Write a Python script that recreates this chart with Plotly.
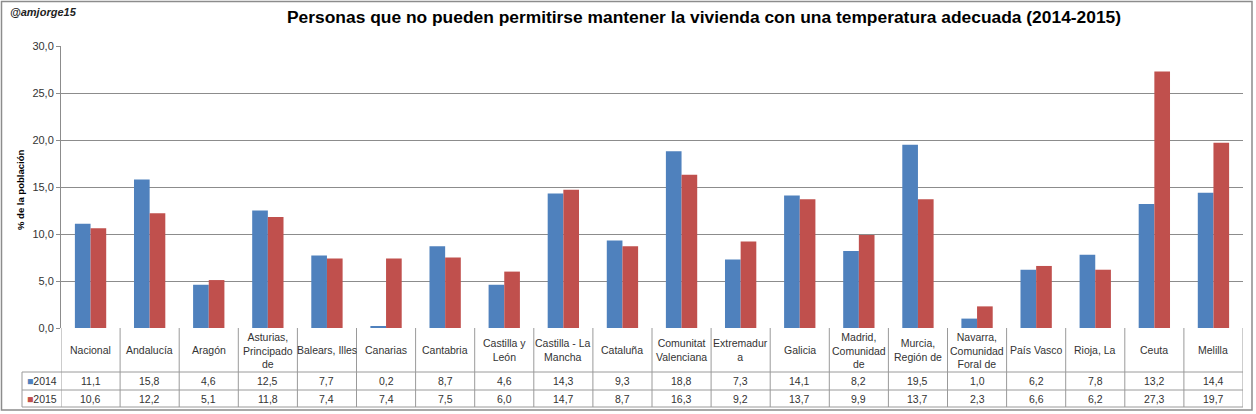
import plotly.graph_objects as go

categories = ["Nacional", "Andalucía", "Aragón", "Asturias, Principado de", "Balears, Illes",
              "Canarias", "Cantabria", "Castilla y León", "Castilla - La Mancha", "Cataluña",
              "Comunitat Valenciana", "Extremadura", "Galicia", "Madrid, Comunidad de",
              "Murcia, Región de", "Navarra, Comunidad Foral de", "País Vasco", "Rioja, La",
              "Ceuta", "Melilla"]
table_labels = ["Nacional", "Andalucía", "Aragón", "Asturias,<br>Principado<br>de", "Balears, Illes",
                "Canarias", "Cantabria", "Castilla y<br>León", "Castilla - La<br>Mancha", "Cataluña",
                "Comunitat<br>Valenciana", "Extremadur<br>a", "Galicia", "Madrid,<br>Comunidad<br>de",
                "Murcia,<br>Región de", "Navarra,<br>Comunidad<br>Foral de", "País Vasco", "Rioja, La",
                "Ceuta", "Melilla"]
v2014 = [11.1, 15.8, 4.6, 12.5, 7.7, 0.2, 8.7, 4.6, 14.3, 9.3, 18.8, 7.3, 14.1, 8.2, 19.5, 1.0, 6.2, 7.8, 13.2, 14.4]
v2015 = [10.6, 12.2, 5.1, 11.8, 7.4, 7.4, 7.5, 6.0, 14.7, 8.7, 16.3, 9.2, 13.7, 9.9, 13.7, 2.3, 6.6, 6.2, 27.3, 19.7]
series_names = ["2014", "2015"]
colors = ["#4F81BD", "#C0504D"]
title = "Personas que no pueden permitirse mantener la vivienda con una temperatura adecuada (2014-2015)"

W, H = 1256, 414
L, R, T, B = 61, 1243, 46, 328
n = len(categories)

def px(x):
    return (x - L) / (R - L)

def py(y):
    return (B - y) / (B - T)

FONT = "Liberation Sans"
TXT = "#333333"
LINE = "#9a9a9a"

fig = go.Figure()
for name, vals, col in zip(series_names, [v2014, v2015], colors):
    fig.add_trace(go.Bar(x=list(range(n)), y=vals, name=name, marker=dict(color=col, line=dict(width=0)),
                         hoverinfo="y"))

shapes = []
annotations = []

# table horizontal lines
for yy, x0 in [(372, 22), (390, 22), (407, 22)]:
    shapes.append(dict(type="line", xref="paper", yref="paper", x0=px(x0), x1=1, y0=py(yy), y1=py(yy),
                       line=dict(color=LINE, width=1)))
# vertical separators
for i in range(n + 1):
    shapes.append(dict(type="line", xref="x", yref="paper", x0=i - 0.5, x1=i - 0.5, y0=0, y1=py(407),
                       line=dict(color=LINE, width=1)))
shapes.append(dict(type="line", xref="paper", yref="paper", x0=px(22), x1=px(22), y0=py(372), y1=py(407),
                   line=dict(color=LINE, width=1)))
# outer chart border
shapes.append(dict(type="rect", xref="paper", yref="paper", x0=px(1.5), x1=px(1252), y0=py(1.5), y1=py(410),
                   line=dict(color="#8c8c8c", width=1.5)))

for i in range(n):
    annotations.append(dict(x=i, y=py(350), xref="x", yref="paper", text=table_labels[i], showarrow=False,
                            font=dict(family=FONT, size=10.5, color=TXT), align="center", yanchor="middle"))
    annotations.append(dict(x=i, y=py(381), xref="x", yref="paper", text=f"{v2014[i]:.1f}".replace(".", ","),
                            showarrow=False, font=dict(family=FONT, size=10.5, color=TXT), yanchor="middle"))
    annotations.append(dict(x=i, y=py(399), xref="x", yref="paper", text=f"{v2015[i]:.1f}".replace(".", ","),
                            showarrow=False, font=dict(family=FONT, size=10.5, color=TXT), yanchor="middle"))

for name, col, yy in zip(series_names, colors, [381, 399]):
    annotations.append(dict(x=px(25), y=py(yy), xref="paper", yref="paper", xanchor="left", yanchor="middle",
                            text=f"<span style='color:{col}'>■</span>{name}", showarrow=False,
                            font=dict(family=FONT, size=10.5, color=TXT)))

annotations.append(dict(x=px(704), y=py(17), xref="paper", yref="paper", text=f"<b>{title}</b>", showarrow=False,
                        font=dict(family=FONT, size=17.4, color="#000000"), xanchor="center", yanchor="middle"))
annotations.append(dict(x=px(8), y=py(12), xref="paper", yref="paper", text="<b><i>@amjorge15</i></b>",
                        showarrow=False, font=dict(family=FONT, size=11, color="#222222"),
                        xanchor="left", yanchor="middle"))
annotations.append(dict(x=px(20), y=py(190), xref="paper", yref="paper", text="<b>% de la población</b>",
                        showarrow=False, textangle=-90, font=dict(family=FONT, size=9.5, color="#000000"),
                        xanchor="center", yanchor="middle"))

fig.update_layout(
    width=W, height=H,
    margin=dict(l=L, r=W - R, t=T, b=H - B, pad=0),
    paper_bgcolor="white", plot_bgcolor="white",
    barmode="group", bargap=0.47, bargroupgap=0,
    showlegend=False,
    separators=",.",
    shapes=shapes, annotations=annotations,
    xaxis=dict(range=[-0.5, n - 0.5], showticklabels=False, showgrid=False, zeroline=False,
               showline=False, fixedrange=True),
    yaxis=dict(range=[0, 30], dtick=5, tickformat=".1f", showgrid=True, gridcolor="#8c8c8c", gridwidth=1,
               zeroline=False, showline=True, linecolor="#8c8c8c", linewidth=1,
               ticks="outside", ticklen=4, tickcolor="#8c8c8c",
               tickfont=dict(family=FONT, size=11, color="#333333"), fixedrange=True),
)

fig.write_html("out.html", config={"displayModeBar": False},
               post_script="document.body.style.margin='0';document.body.style.padding='0';"
                           "document.body.style.overflow='hidden';")
